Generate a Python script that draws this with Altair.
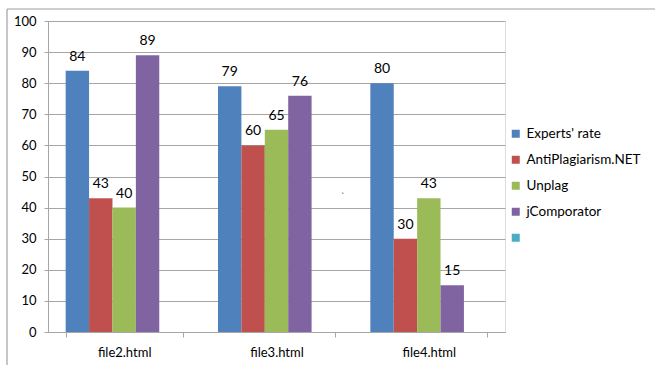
import altair as alt
import pandas as pd

files = ["file2.html", "file3.html", "file4.html"]
series = ["Experts' rate", "AntiPlagiarism.NET", "Unplag", "jComporator", " "]
colors = ["#4F81BD", "#C0504D", "#9BBB59", "#8064A2", "#4BACC6"]
experts = [84, 79, 80]
anti = [43, 60, 30]
unplag = [40, 65, 43]
jcomp = [89, 76, 15]
y_ticks = [0, 10, 20, 30, 40, 50, 60, 70, 80, 90, 100]

rows = []
for i, f in enumerate(files):
    for s, vals in zip(series[:4], [experts, anti, unplag, jcomp]):
        rows.append({"file": f, "series": s, "value": vals[i]})
df = pd.DataFrame(rows)

FONT = "Lato"
GRID = "#A6A6A6"
W, H = 457, 311
PL, PT = 48, 21

x_enc = alt.X("file:N", sort=files, title=None,
              scale=alt.Scale(paddingInner=0.232, paddingOuter=0.116),
              axis=alt.Axis(labelAngle=0, labelFontSize=13, labelFont=FONT,
                            labelColor="#000000", domainColor=GRID, tickColor=GRID,
                            tickSize=5, tickBand="extent", labelPadding=9, grid=False))
xoff = alt.XOffset("series:N", scale=alt.Scale(domain=series, paddingInner=0, paddingOuter=0))
y_enc = alt.Y("value:Q", title=None,
              scale=alt.Scale(domain=[0, 100], nice=False),
              axis=alt.Axis(values=y_ticks, labelFontSize=13, labelFont=FONT,
                            labelColor="#000000", domainColor=GRID, tickColor=GRID,
                            gridColor=GRID, tickSize=4, labelPadding=8,
                            labelOverlap=False))

base = alt.Chart(df)

bars = base.mark_bar().encode(
    x=x_enc,
    xOffset=xoff,
    y=y_enc,
    color=alt.Color("series:N", scale=alt.Scale(domain=series, range=colors),
                    legend=alt.Legend(title=None, orient="none", legendX=461, legendY=106,
                                      symbolType="square", symbolSize=64,
                                      symbolStrokeWidth=0,
                                      labelFontSize=13.5, labelFont=FONT,
                                      labelColor="#000000", rowPadding=11)),
)

labels = base.mark_text(baseline="alphabetic", dy=-10, fontSize=14, font=FONT,
                        color="#000000").encode(
    x=x_enc,
    xOffset=xoff,
    y=y_enc,
    text=alt.Text("value:Q"),
)

frame_top = alt.Chart(pd.DataFrame({"a": [0]})).mark_rule(color="#A0A0A0", strokeWidth=1.2).encode(
    x=alt.value(7 - PL), x2=alt.value(655 - PL), y=alt.value(9 - PT))
frame_left = alt.Chart(pd.DataFrame({"a": [0]})).mark_rule(color="#A0A0A0", strokeWidth=1.2).encode(
    x=alt.value(7 - PL), y=alt.value(9 - PT), y2=alt.value(365 - PT))
tick_mark = alt.Chart(pd.DataFrame({"t": ["`"]})).mark_text(fontSize=10, font=FONT,
                                                           color="#555555").encode(
    x=alt.value(343 - PL), y=alt.value(197 - PT), text="t:N")

chart = alt.layer(bars, labels, frame_top, frame_left, tick_mark).properties(
    width=W, height=H,
    autosize=alt.AutoSizeParams(type="none"),
    padding={"left": PL, "top": PT, "right": 655 - PL - W, "bottom": 365 - PT - H},
).configure_view(stroke=None).configure(background="#FFFFFF")

chart.save("out.html", embed_options={"renderer": "svg", "actions": False})
